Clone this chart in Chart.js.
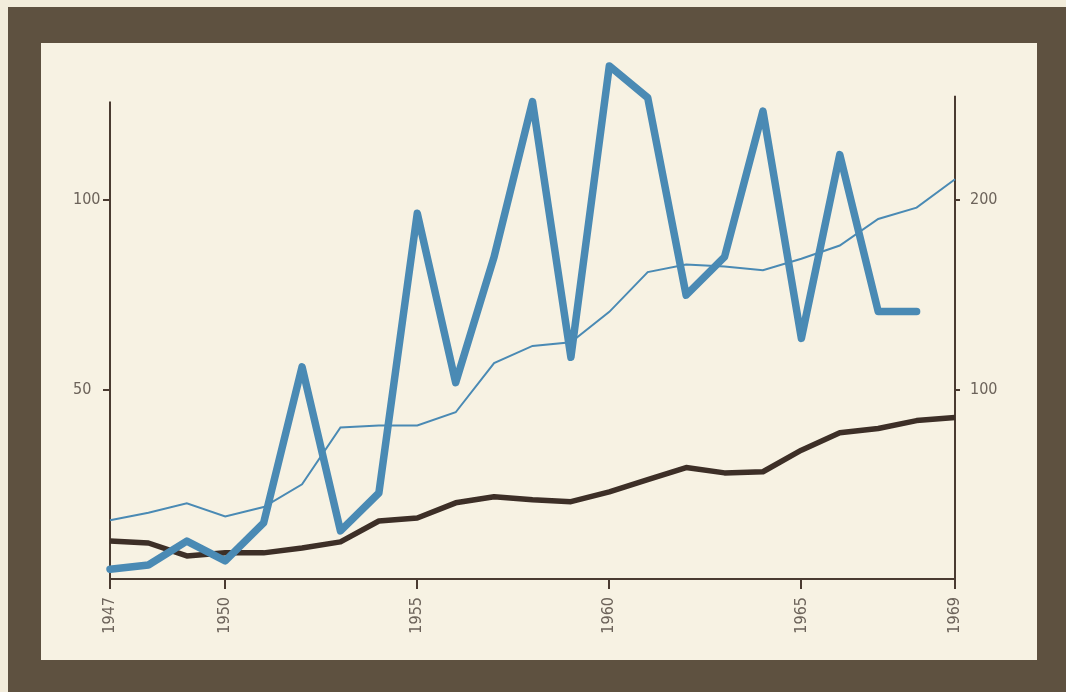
<!DOCTYPE html>
<html><head><meta charset="utf-8">
<script src="https://cdn.jsdelivr.net/npm/chart.js@4/dist/chart.umd.min.js"></script>
<style>
html,body{margin:0;padding:0;background:#f2ecdb;width:1066px;height:692px;overflow:hidden}
#frame{position:absolute;left:8px;top:7px;width:1058px;height:685px;background:#5e5140}
#panel{position:absolute;left:41px;top:43px;width:996px;height:617px;background:#f7f2e3}
canvas{position:absolute;left:0;top:0}
</style></head><body>
<div id="frame"></div><div id="panel"></div>
<canvas id="c" width="1066" height="692"></canvas>
<script>
// ---- data ----
const years = [1947,1948,1949,1950,1951,1952,1953,1954,1955,1956,1957,1958,1959,1960,1961,1962,1963,1964,1965,1966,1967,1968,1969];
const tickYears = [1947,1950,1955,1960,1965,1969];
const leftTicks = [50,100];
const rightTicks = [100,200];
// thick blue line (left scale)
const thickBlue = [2.6,3.7,10,4.8,14.8,56,12.7,22.7,96.5,51.8,85,126,58.5,135.4,127,74.9,85,123.5,63.5,112,70.6,70.6,null];
// thin blue line (right scale)
const thinBlue = [31,35,40,33,38,50,80,81,81,88,114,123,125,141,162,166,165,163,169,176,190,196,211];
// dark brown line (right scale)
const darkLine = [20,19,12.2,13.8,13.8,16.4,19.6,30.6,32.2,40.2,43.4,41.8,40.8,46,52.4,58.8,56,56.6,68,77.2,79.4,83.6,85.2];

const blue = '#4a8ab4';
const dark = '#3d2f27';
const axisColor = '#4a3b31';
const labelColor = '#6c635a';
const fontFam = "'Liberation Sans Narrow','DejaVu Sans Condensed',sans-serif";

const toPts = arr => years.map((y,i)=>({x:y,y:arr[i]}));

const axisLines = {
  id:'axisLines',
  beforeDatasetsDraw(chart){
    const {ctx, chartArea, scales} = chart;
    ctx.save();
    ctx.strokeStyle = axisColor;
    ctx.lineWidth = 2;
    ctx.beginPath();
    ctx.moveTo(chartArea.left, scales.y.getPixelForValue(126));
    ctx.lineTo(chartArea.left, chartArea.bottom);
    ctx.moveTo(chartArea.right, scales.y2.getPixelForValue(255));
    ctx.lineTo(chartArea.right, chartArea.bottom);
    ctx.stroke();
    ctx.restore();
  }
};

new Chart(document.getElementById('c'), {
  type:'line',
  data:{
    datasets:[
      {data:toPts(thickBlue), yAxisID:'y', borderColor:blue, borderWidth:7.5, borderJoinStyle:'round', borderCapStyle:'round', pointRadius:0, tension:0, clip:false, spanGaps:false},
      {data:toPts(thinBlue), yAxisID:'y2', borderColor:blue, borderWidth:2, pointRadius:0, tension:0, clip:false},
      {data:toPts(darkLine), yAxisID:'y2', borderColor:dark, borderWidth:5.5, borderJoinStyle:'round', borderCapStyle:'butt', pointRadius:0, tension:0, clip:false}
    ]
  },
  options:{
    responsive:false, animation:false, devicePixelRatio:1,
    layout:{padding:{left:73,right:51,top:48.5,bottom:53}},
    plugins:{legend:{display:false}, tooltip:{enabled:false}},
    scales:{
      x:{type:'linear', min:1947, max:1969,
        afterBuildTicks:s=>{s.ticks = tickYears.map(v=>({value:v}));},
        afterFit:s=>{s.height=60;},
        grid:{display:true, drawOnChartArea:false, drawTicks:true, tickLength:10, color:axisColor, lineWidth:2},
        border:{display:true, color:axisColor, width:2},
        ticks:{autoSkip:false, minRotation:90, maxRotation:90, padding:8, color:labelColor, font:{family:fontFam, size:16}, callback:v=>String(v)}
      },
      y:{position:'left', min:0, max:140,
        afterBuildTicks:s=>{s.ticks = leftTicks.map(v=>({value:v}));},
        afterFit:s=>{s.width=37;},
        grid:{display:true, drawOnChartArea:false, drawTicks:true, tickLength:7, color:axisColor, lineWidth:2},
        border:{display:false},
        ticks:{crossAlign:'far', padding:10, color:labelColor, font:{family:fontFam, size:16}, callback:v=>String(v)}
      },
      y2:{position:'right', min:0, max:280,
        afterBuildTicks:s=>{s.ticks = rightTicks.map(v=>({value:v}));},
        afterFit:s=>{s.width=60;},
        grid:{display:true, drawOnChartArea:false, drawTicks:true, tickLength:5, color:axisColor, lineWidth:2},
        border:{display:false},
        ticks:{padding:10, color:labelColor, font:{family:fontFam, size:16}, callback:v=>String(v)}
      }
    }
  },
  plugins:[axisLines]
});
</script>
</body></html>
